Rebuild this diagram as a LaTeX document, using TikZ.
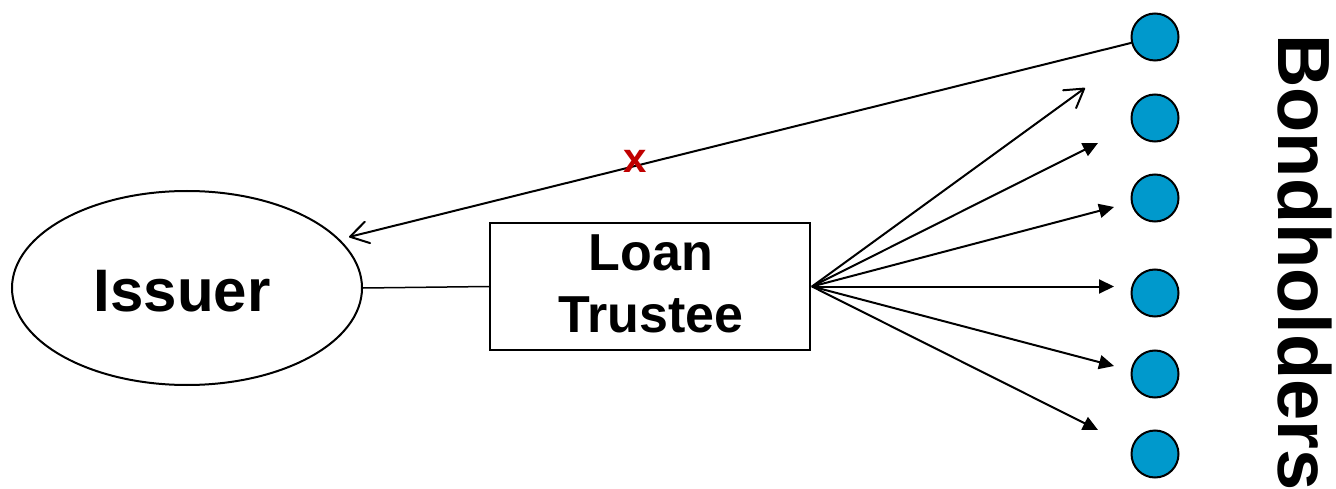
\documentclass[tikz,border=0pt]{standalone}
\usepackage{fontspec}
\setmainfont{Liberation Sans}
\usetikzlibrary{shapes.geometric,arrows.meta}
\definecolor{bluefill}{HTML}{0099CC}
\definecolor{xred}{HTML}{C00000}
\begin{document}
\begin{tikzpicture}[x=1pt,y=-1pt,
  bond/.style={circle, draw, line width=2pt, fill=bluefill, minimum size=47pt, inner sep=0pt},
  arr/.style={line width=2pt, -{Triangle[length=15pt,width=14pt]}},
  openarr/.style={line width=2pt, line cap=round, line join=round, -{Straight Barb[length=18pt,width=22pt,line cap=round,line join=round]}},
  bigtext/.style={font=\fontsize{#1}{#1}\selectfont\bfseries, inner sep=0pt}
]
\useasboundingbox (0,0) rectangle (1336,489);
% issuer
\node[ellipse, draw, line width=2pt, minimum width=350pt, minimum height=194pt, inner sep=0pt] (issuer) at (187,288) {};
\node[bigtext=60, anchor=base] (issuerlbl) at (182,311) {Issuer};
% trustee
\node[rectangle, draw, line width=2pt, minimum width=320pt, minimum height=127pt, inner sep=0pt] (trustee) at (650,286.5) {};
\node[bigtext=52, anchor=base] (loan) at (651,270) {Loan};
\node[bigtext=52, anchor=base] (trust) at (651,332) {Trustee};
\draw[line width=1.5pt] (issuer.east) -- (trustee.west);
% bondholders
\node[bond] (b1) at (1155,37) {};
\node[bond] (b2) at (1155,118) {};
\node[bond] (b3) at (1155,198) {};
\node[bond] (b4) at (1155,293) {};
\node[bond] (b5) at (1155,374) {};
\node[bond] (b6) at (1155,454) {};
\node[bigtext=74, rotate=-90, anchor=base west] (bh) at (1278,34) {Bondholders};
% arrow ends
\coordinate (e1) at (1085,88);
\coordinate (e2) at (1098,143);
\coordinate (e3) at (1114,207);
\coordinate (e4) at (1114,286.5);
\coordinate (e5) at (1114,366);
\coordinate (e6) at (1098,430);
\coordinate (src) at (812,286.5);
\coordinate (itip) at (349,237);
\draw[openarr] (src) -- (e1);
\draw[arr] (src) -- (e2);
\draw[arr] (src) -- (e3);
\draw[arr] (src) -- (e4);
\draw[arr] (src) -- (e5);
\draw[arr] (src) -- (e6);
\draw[openarr] (b1) -- (itip);
\node[bigtext=42, text=xred] (xmark) at (635,161) {x};
\end{tikzpicture}
\end{document}
